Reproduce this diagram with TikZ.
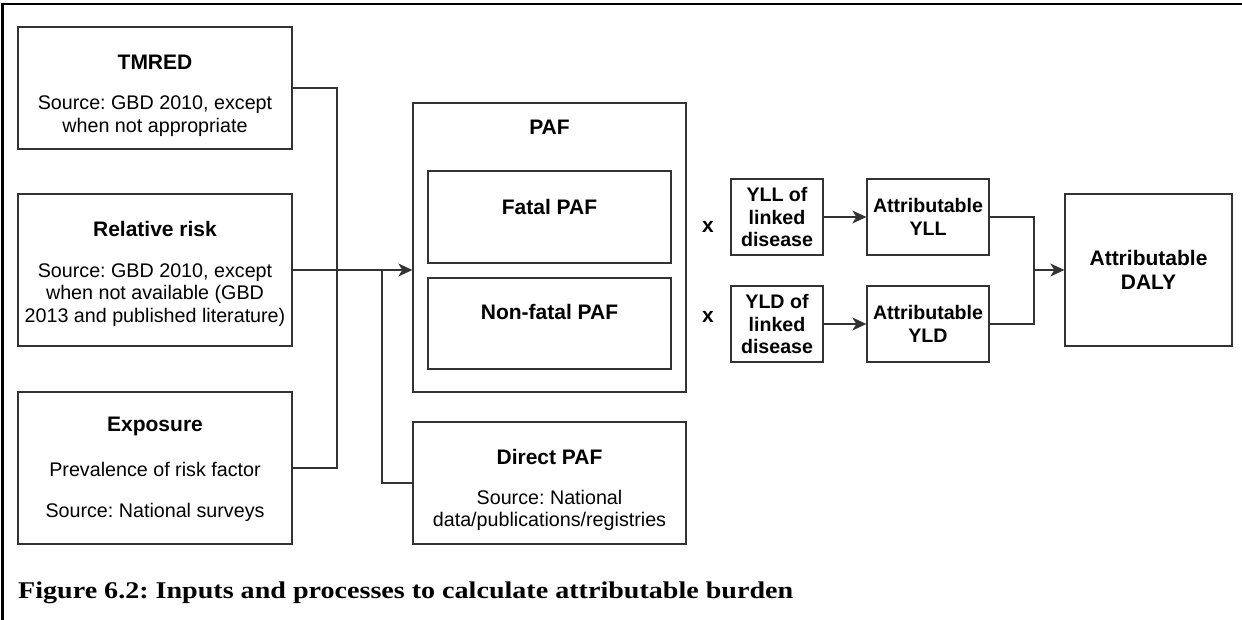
\documentclass[tikz,border=0pt]{standalone}
\usepackage{fontspec}
\usepackage{graphicx}
\newfontfamily\diagf{Liberation Sans}
\newfontfamily\capf{Liberation Serif}
\usetikzlibrary{arrows.meta}
\definecolor{boxc}{HTML}{333333}
\frenchspacing
\begin{document}
\begin{tikzpicture}[x=1pt,y=-1pt,
  box/.style={draw=boxc, line width=1.3pt, inner sep=0pt, align=center,
    font=\diagf\bfseries\fontsize{19.6}{22.5}\selectfont},
  txt/.style={inner sep=0pt, align=center, font=\diagf\fontsize{19.7}{22.7}\selectfont},
  ttl/.style={inner sep=0pt, align=center, font=\diagf\bfseries\fontsize{21}{24}\selectfont},
  conn/.style={draw=boxc, line width=1.3pt},
  arr/.style={conn, -{Stealth[length=14pt,width=13pt,inset=4pt]}}]
\useasboundingbox (0,0) rectangle (1242,620);
\fill[white] (0,0) rectangle (1242,620);
\draw[line width=2.5pt, line join=miter] (2.5,620) -- (2.5,4) -- (1242,4);

% left input boxes
\node[box, minimum width=274pt, minimum height=122pt] (tmred) at (155,88) {};
\node[ttl] (tmredT) at (155,62) {TMRED};
\node[txt] (tmredS) at (155,116.5) {Source: GBD 2010, except\\when not appropriate};

\node[box, minimum width=274pt, minimum height=152pt] (rr) at (155,270) {};
\node[ttl] (rrT) at (155,229) {Relative risk};
\node[txt] (rrS) at (155,295) {Source: GBD 2010, except\\when not available (GBD\\2013 and published literature)};

\node[box, minimum width=274pt, minimum height=152pt] (exp) at (155,468) {};
\node[ttl] (expT) at (155,426) {Exposure};
\node[txt] (expP) at (155,469) {Prevalence of risk factor};
\node[txt] (expS) at (155,512) {Source: National surveys};

% PAF
\node[box, minimum width=273pt, minimum height=289pt] (paf) at (549.5,247.5) {};
\node[ttl] (pafT) at (549.5,127) {PAF};
\node[box, minimum width=243pt, minimum height=92pt] (fatal) at (549.5,217) {};
\node[ttl] (fatalT) at (549.5,207) {Fatal PAF};
\node[box, minimum width=243pt, minimum height=91pt] (nonfatal) at (549.5,323.5) {};
\node[ttl] (nonfatalT) at (549.5,312) {Non-fatal PAF};

\node[box, minimum width=273pt, minimum height=122pt] (direct) at (549.5,483) {};
\node[ttl] (directT) at (549.5,457) {Direct PAF};
\node[txt] (directS) at (549.5,510.5) {Source: National\\data/publications/registries};

% multipliers
\node[ttl] (x1) at (708,227) {x};
\node[ttl] (x2) at (708,317) {x};

\node[box, minimum width=92pt, minimum height=76pt] (yll) at (777,217) {YLL of\\linked\\disease};
\node[box, minimum width=92pt, minimum height=76pt] (yld) at (777,324) {YLD of\\linked\\disease};
\node[box, minimum width=122pt, minimum height=76pt] (ayll) at (928,217) {Attributable\\YLL};
\node[box, minimum width=122pt, minimum height=76pt] (ayld) at (928,324) {Attributable\\YLD};
\node[box, minimum width=167pt, minimum height=152pt,
  font=\diagf\bfseries\fontsize{21}{24}\selectfont] (daly) at (1148.5,270) {Attributable\\DALY};

% connectors
\coordinate (busA) at (337,0);
\coordinate (busB) at (382,0);
\coordinate (busC) at (1034,0);
\draw[conn] (tmred.east) -| (busA |- exp.east) -- (exp.east);
\draw[arr] (rr.east) -- (rr.east -| paf.west);
\draw[conn] (rr.east -| busB) |- (direct.west);
\draw[arr] (yll.east) -- (ayll.west);
\draw[arr] (yld.east) -- (ayld.west);
\draw[conn] (ayll.east) -| (busC |- ayld.east) -- (ayld.east);
\draw[arr] (busC |- daly.west) -- (daly.west);

% caption
\node[anchor=west, inner sep=0pt, font=\capf\bfseries\fontsize{24}{27}\selectfont] (cap) at (18,593)
  {\resizebox{775pt}{\height}{Figure 6.2: Inputs and processes to calculate attributable burden}};
\end{tikzpicture}
\end{document}
